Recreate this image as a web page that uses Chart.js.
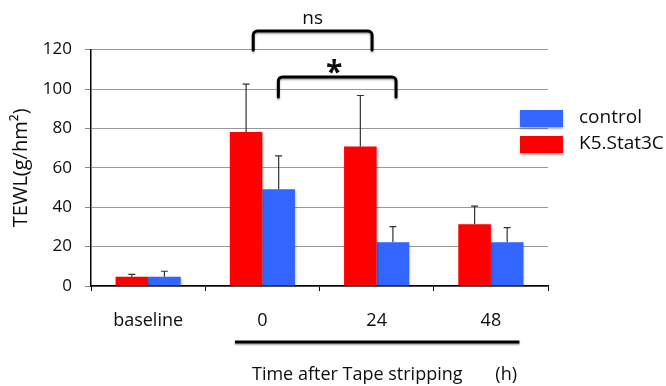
<!DOCTYPE html>
<html>
<head>
<meta charset="utf-8">
<script src="https://cdn.jsdelivr.net/npm/chart.js@4.4.1/dist/chart.umd.min.js"></script>
<style>
    html, body { margin: 0; padding: 0; background: #fff; }
    #wrap { width: 666px; height: 386px; }
</style>
</head>
<body>
<div id="wrap"><canvas id="chart" width="666" height="386"></canvas></div>
<script>
let categories = ['baseline', '0', '24', '48'];
let stat3cValues = [4.7, 78.2, 70.8, 31.3];
let stat3cErrors = [1.2, 24.3, 25.9, 9.2];
let controlValues = [4.7, 49.1, 22.2, 22.2];
let controlErrors = [2.8, 17.0, 7.9, 7.4];
let yTicks = [0, 20, 40, 60, 80, 100, 120];

// significance brackets: ends in category units, heights in TEWL units
let bracketLabels = ['ns', '*'];
let bracketFrom = [0.92, 1.14];
let bracketTo = [1.96, 2.17];
let bracketTop = [129.4, 106.1];
let bracketFoot = [119.8, 96];

const RED = '#ff0000';
const BLUE = '#3366ff';
const FONT = '"Open Sans", "Noto Sans", sans-serif';
const INK = '#0d0d0d';

let barShadow = {
    id: 'barShadow',
    beforeDatasetsDraw(chart) {
        let ctx = chart.ctx;
        ctx.save();
        ctx.shadowColor = 'rgba(0,0,0,0.22)';
        ctx.shadowBlur = 2;
        ctx.shadowOffsetX = 1;
        ctx.shadowOffsetY = 1;
    },
    afterDatasetsDraw(chart) {
        chart.ctx.restore();
    }
};

let errorBars = {
    id: 'errorBars',
    afterDatasetsDraw(chart) {
        let ctx = chart.ctx;
        let y = chart.scales.y;
        let errors = [stat3cErrors, controlErrors];
        ctx.save();
        ctx.strokeStyle = '#333';
        ctx.lineWidth = 1.2;
        chart.data.datasets.forEach((ds, i) => {
            chart.getDatasetMeta(i).data.forEach((bar, j) => {
                let top = y.getPixelForValue(ds.data[j] + errors[i][j]);
                ctx.beginPath();
                ctx.moveTo(bar.x, bar.y);
                ctx.lineTo(bar.x, top);
                ctx.moveTo(bar.x - 3.5, top);
                ctx.lineTo(bar.x + 3.5, top);
                ctx.stroke();
            });
        });
        ctx.restore();
    }
};

let extras = {
    id: 'extras',
    afterDraw(chart) {
        let ctx = chart.ctx;
        let x = chart.scales.x;
        let y = chart.scales.y;
        let area = chart.chartArea;
        ctx.save();

        // brackets
        ctx.strokeStyle = '#000';
        ctx.lineWidth = 3;
        ctx.lineCap = 'round';
        ctx.lineJoin = 'round';
        ctx.shadowColor = 'rgba(0,0,0,0.35)';
        ctx.shadowBlur = 2;
        ctx.shadowOffsetY = 1.5;
        bracketLabels.forEach((label, i) => {
            let x0 = x.getPixelForValue(bracketFrom[i]);
            let x1 = x.getPixelForValue(bracketTo[i]);
            let yt = y.getPixelForValue(bracketTop[i]);
            let yf = y.getPixelForValue(bracketFoot[i]);
            ctx.beginPath();
            ctx.moveTo(x0, yf);
            ctx.arcTo(x0, yt, x1, yt, 4);
            ctx.arcTo(x1, yt, x1, yf, 4);
            ctx.lineTo(x1, yf);
            ctx.stroke();
        });

        // underline of the time points
        ctx.beginPath();
        ctx.lineCap = 'butt';
        ctx.moveTo(x.getPixelForValue(0.76), 342);
        ctx.lineTo(x.getPixelForValue(3.25), 342);
        ctx.stroke();
        ctx.shadowColor = 'transparent';

        ctx.fillStyle = INK;
        ctx.textAlign = 'center';
        ctx.textBaseline = 'middle';
        bracketLabels.forEach((label, i) => {
            let mid = (x.getPixelForValue(bracketFrom[i]) + x.getPixelForValue(bracketTo[i])) / 2;
            let yt = y.getPixelForValue(bracketTop[i]);
            if (label === '*') {
                ctx.font = 'bold 30px ' + FONT;
                ctx.fillText(label, mid - 3, yt - 4);
            } else {
                ctx.font = '19px ' + FONT;
                ctx.fillText(label, mid, yt - 12);
            }
        });

        // x axis title
        ctx.font = '18px ' + FONT;
        ctx.textAlign = 'left';
        ctx.fillText('Time after Tape stripping', 252, 375);
        ctx.textAlign = 'right';
        ctx.fillText('(h)', 517, 375);

        // legend, control on top
        let items = [['control', BLUE], ['K5.Stat3C', RED]];
        items.forEach((item, i) => {
            let top = 110 + i * 26;
            ctx.shadowColor = 'rgba(0,0,0,0.3)';
            ctx.shadowBlur = 2;
            ctx.shadowOffsetY = 1.5;
            ctx.fillStyle = item[1];
            ctx.fillRect(area.right - 28, top, 43, 17);
            ctx.shadowColor = 'transparent';
            ctx.fillStyle = INK;
            ctx.textAlign = 'left';
            ctx.font = '19px ' + FONT;
            ctx.fillText(item[0], 579, top + 8);
        });
        ctx.restore();
    }
};

new Chart(document.getElementById('chart'), {
    type: 'bar',
    data: {
        labels: categories,
        datasets: [
            {
                label: 'K5.Stat3C',
                data: stat3cValues,
                backgroundColor: RED,
                categoryPercentage: 0.57,
                barPercentage: 1.0
            }, {
                label: 'control',
                data: controlValues,
                backgroundColor: BLUE,
                categoryPercentage: 0.57,
                barPercentage: 1.0
            }
        ]
    },
    options: {
        responsive: false,
        animation: false,
        devicePixelRatio: 1,
        layout: {
            padding: {left: 0, right: 118, top: 49.6, bottom: 0}
        },
        plugins: {
            legend: {display: false},
            tooltip: {enabled: false}
        },
        scales: {
            x: {
                afterFit: scale => { scale.height = 100; },
                grid: {drawOnChartArea: false, tickLength: 5, color: '#000'},
                border: {color: '#000', width: 1.5},
                ticks: {color: INK, padding: 19, font: {family: FONT, size: 18}}
            },
            y: {
                min: 0,
                max: 120,
                afterFit: scale => { scale.width = 91; },
                afterBuildTicks: scale => { scale.ticks = yTicks.map(v => ({value: v})); },
                grid: {color: '#999', tickColor: '#888', tickLength: 6},
                border: {color: '#000', width: 1.5},
                ticks: {color: INK, padding: 13, font: {family: FONT, size: 17}},
                title: {
                    display: true,
                    text: 'TEWL(g/hm²)',
                    color: INK,
                    padding: {top: 9, bottom: 0},
                    font: {family: FONT, size: 20}
                }
            }
        }
    },
    plugins: [barShadow, errorBars, extras]
});
</script>
</body>
</html>
